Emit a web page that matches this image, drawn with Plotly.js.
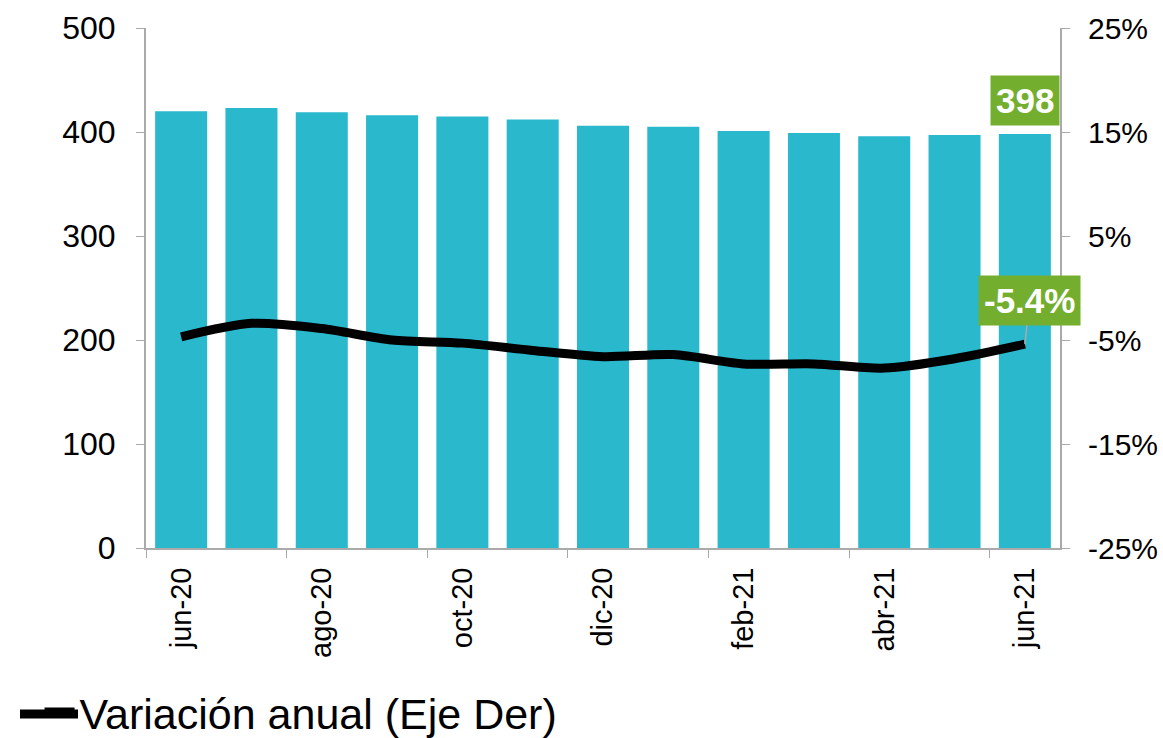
<!DOCTYPE html>
<html><head><meta charset="utf-8">
<script src="https://cdn.plot.ly/plotly-3.0.1.min.js"></script>
<style>html,body{margin:0;padding:0;background:#fff}</style>
</head><body>
<div id="chart" style="width:1163px;height:738px"></div>
<script>
const months = ["jun-20","jul-20","ago-20","sep-20","oct-20","nov-20","dic-20","ene-21","feb-21","mar-21","abr-21","may-21","jun-21"];
const stock = [420, 423, 419, 416, 415, 412, 406, 405, 401, 399, 396, 397, 398];
const variacion = [-4.7, -3.4, -3.9, -5.0, -5.3, -6.0, -6.6, -6.4, -7.3, -7.3, -7.7, -6.8, -5.4];
const rightTicks = [-25, -15, -5, 5, 15, 25];
const rightTickText = ["-25%", "-15%", "-5%", "5%", "15%", "25%"];

const font = "Liberation Sans, Arial, sans-serif";
const last = months.length - 1;

const traces = [
  {type:"bar", x:months, y:stock, marker:{color:"#29B8CC"}, showlegend:false, hoverinfo:"skip"},
  {type:"scatter", mode:"lines", x:months, y:variacion, yaxis:"y2", name:"Variación anual (Eje Der)",
   line:{color:"#000", width:9, shape:"spline", smoothing:0.8}}
];

const layout = {
  width:1163, height:738,
  margin:{l:146, r:103, t:28, b:190, autoexpand:false},
  paper_bgcolor:"#fff", plot_bgcolor:"#fff",
  font:{family:font, size:31, color:"#000"},
  bargap:0.26,
  showlegend:true,
  legend:{xref:"container", yref:"container", x:0.034, xanchor:"left", y:0.035, yanchor:"middle",
          orientation:"h", font:{size:43, family:font}, bgcolor:"rgba(0,0,0,0)"},
  shapes:[
    {type:"line", xref:"paper", yref:"paper", x0:(20-146)/914, x1:(78-146)/914, y0:(548-714)/520, y1:(548-714)/520,
     line:{color:"#000", width:9}, layer:"above"}
  ],
  xaxis:{type:"category", range:[-0.5, 12.5], autorange:false, dtick:2, tickson:"boundaries",
         ticks:"outside", ticklen:8, tickcolor:"#aaa", showline:true, linecolor:"#aaa", linewidth:2,
         tickangle:-90, tickfont:{size:29, family:font}, showgrid:false, zeroline:false,
         automargin:false, ticklabelstandoff:6},
  yaxis:{range:[0,500], autorange:false, dtick:100, showline:true, linecolor:"#aaa", linewidth:2,
         ticks:"outside", ticklen:8, tickcolor:"#aaa", showgrid:false, zeroline:false,
         tickfont:{size:32, family:font}, automargin:false, ticklabelstandoff:14},
  yaxis2:{range:[-25,25], autorange:false, tickmode:"array", tickvals:rightTicks, ticktext:rightTickText,
          overlaying:"y", side:"right",
          showline:true, linecolor:"#aaa", linewidth:2, ticks:"outside", ticklen:8,
          tickcolor:"#aaa", showgrid:false, zeroline:false, tickfont:{size:30, family:font},
          automargin:false, ticklabelstandoff:12},
  annotations:[
    {x:months[last], y:stock[last], xref:"x", yref:"y", text:"<b>"+stock[last]+"</b>",
     showarrow:false, yshift:34, xshift:0, bgcolor:"#74AE2E", borderpad:5,
     font:{size:35, color:"#fff", family:font}},
    {x:months[last], y:variacion[last], xref:"x", yref:"y2", text:"<b>"+variacion[last].toFixed(1)+"%</b>",
     showarrow:true, arrowhead:0, arrowcolor:"#aaa", arrowwidth:1.5, ax:5, ay:-44,
     bgcolor:"#74AE2E", borderpad:5, font:{size:35, color:"#fff", family:font}}
  ]
};

Plotly.newPlot("chart", traces, layout, {displayModeBar:false, staticPlot:true});
</script>
</body></html>
